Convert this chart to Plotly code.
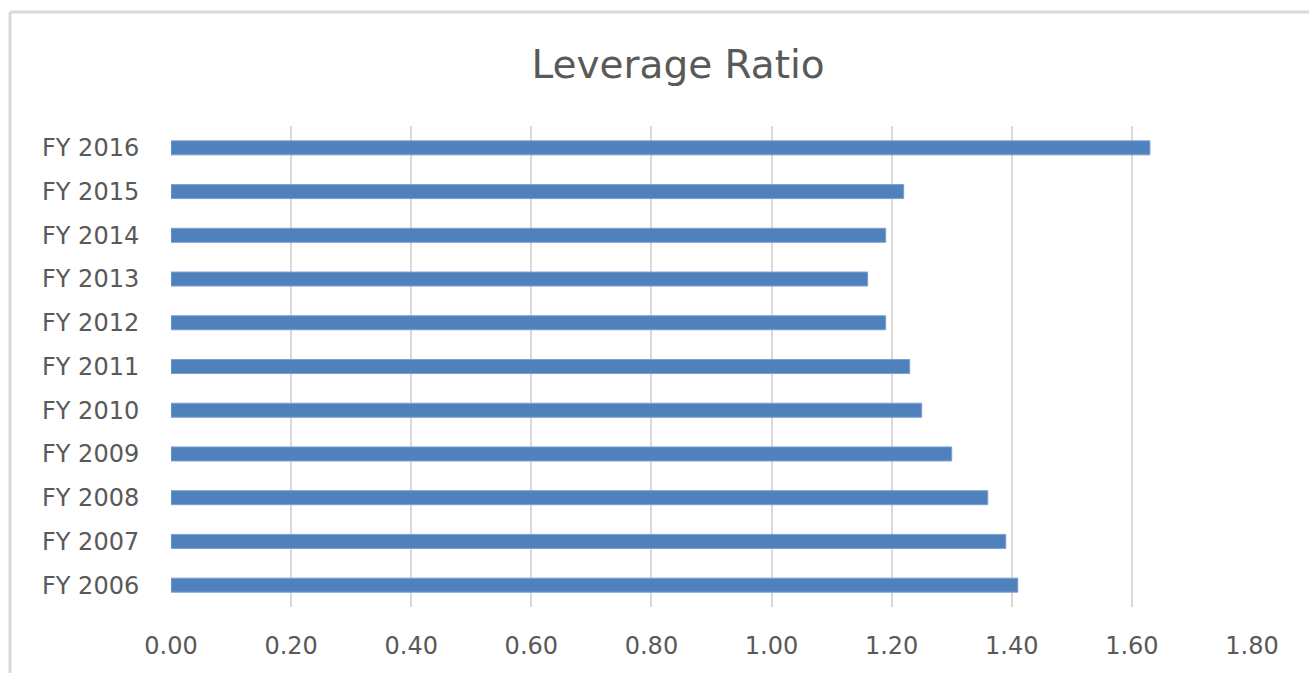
import plotly.graph_objects as go

categories = ["FY 2006", "FY 2007", "FY 2008", "FY 2009", "FY 2010", "FY 2011",
              "FY 2012", "FY 2013", "FY 2014", "FY 2015", "FY 2016"]
leverage_ratio = [1.41, 1.39, 1.36, 1.30, 1.25, 1.23, 1.19, 1.16, 1.19, 1.22, 1.63]
tick_values = [0, 0.2, 0.4, 0.6, 0.8, 1.0, 1.2, 1.4, 1.6, 1.8]
tick_labels = ["0.00", "0.20", "0.40", "0.60", "0.80", "1.00", "1.20", "1.40", "1.60", "1.80"]

W, H = 1309, 673
L, R, T, B = 171, 57, 126, 66
pw, ph = W - L - R, H - T - B

fig = go.Figure(go.Bar(
    x=leverage_ratio, y=categories, orientation="h",
    marker=dict(color="#4f81bd", line=dict(color="#7a9fd0", width=1)),
    hoverinfo="x+y",
))

FONT = "DejaVu Sans"
fig.update_layout(
    width=W, height=H,
    margin=dict(l=L, r=R, t=T, b=B, pad=0),
    paper_bgcolor="white", plot_bgcolor="white",
    bargap=0.68,
    showlegend=False,
    title=dict(text="Leverage Ratio", x=0.518, xanchor="center", y=1 - 64 / H, yanchor="middle",
               font=dict(family=FONT, size=39, color="#595959")),
    xaxis=dict(range=[0, 1.8], tickvals=tick_values, ticktext=tick_labels,
               showgrid=True, gridcolor="#d9d9d9", gridwidth=2, zeroline=False,
               showline=False, ticks="outside", ticklen=17, tickcolor="rgba(0,0,0,0)",
               tickfont=dict(family=FONT, size=24, color="#595959"), fixedrange=True),
    yaxis=dict(type="category", categoryorder="array", categoryarray=categories,
               showgrid=False, zeroline=False, showline=False, ticks="outside",
               ticklen=26, tickcolor="rgba(0,0,0,0)",
               tickfont=dict(family=FONT, size=24, color="#595959"), fixedrange=True),
    shapes=[
        dict(type="line", xref="paper", yref="paper",
             x0=(10 - L) / pw, x1=(W - L) / pw + 0.01,
             y0=1 + (T - 12) / ph, y1=1 + (T - 12) / ph,
             line=dict(color="#d9d9d9", width=3)),
        dict(type="line", xref="paper", yref="paper",
             x0=(10 - L) / pw, x1=(10 - L) / pw,
             y0=1 + (T - 12) / ph, y1=-(B + 5) / ph,
             line=dict(color="#d9d9d9", width=3)),
    ],
)

fig.write_html("out.html")
